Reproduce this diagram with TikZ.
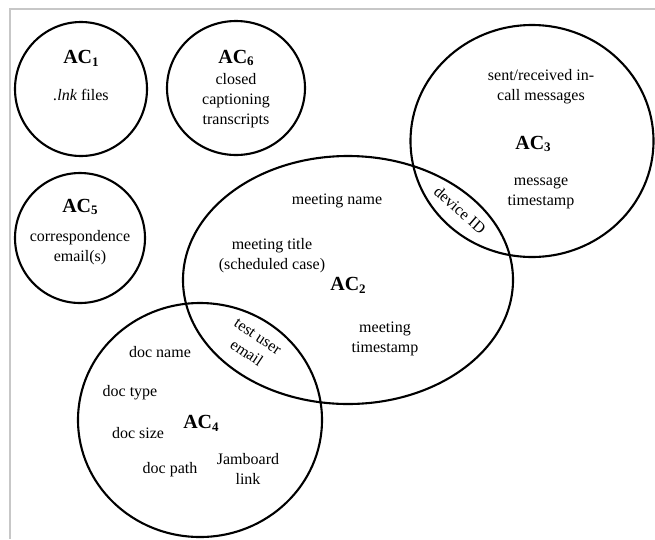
\documentclass[tikz,border=0pt]{standalone}
\usepackage{fontspec}
\setmainfont{Liberation Serif}
\usetikzlibrary{shapes.geometric}
\newcommand{\acsub}[1]{\raisebox{-0.3ex}{\fontsize{13}{13}\selectfont #1}}
\begin{document}
\begin{tikzpicture}[x=1pt,y=-1pt,
  set/.style={draw, ellipse, line width=2.1pt, inner sep=0pt},
  txt/.style={font=\fontsize{16}{20}\selectfont, align=center, inner sep=0pt},
  lab/.style={font=\fontsize{20}{22}\selectfont\bfseries, inner sep=0pt},
  frame/.style={draw=black!22, line width=1.3pt}]
\useasboundingbox (0,0) rectangle (655,539);
\coordinate (ftl) at (10,9);
\coordinate (ftr) at (655,9);
\coordinate (fbl) at (10,539);
\draw[frame] (ftr) -- (ftl) -- (fbl);
% sets
\node[set, minimum width=132pt, minimum height=134pt] (c1) at (81,89) {};
\node[set, minimum width=138pt, minimum height=134pt] (c6) at (236,88) {};
\node[set, minimum width=130pt, minimum height=130pt] (c5) at (80,238) {};
\node[set, minimum width=243pt, minimum height=232pt] (c3) at (532,141) {};
\node[set, minimum width=330pt, minimum height=248pt] (c2) at (348,280) {};
\node[set, minimum width=244pt, minimum height=234pt] (c4) at (200,420) {};
% AC1
\node[lab] (l1) at (81,58) {AC\acsub{1}};
\node[txt] (t1) at (81,95) {\textit{.lnk} files};
% AC6
\node[lab] (l6) at (236,58) {AC\acsub{6}};
\node[txt] (t6) at (236,101) {closed\\captioning\\transcripts};
% AC5
\node[lab] (l5) at (80,207) {AC\acsub{5}};
\node[txt] (t5) at (80,248) {correspondence\\email(s)};
% AC3
\node[txt] (t3a) at (541,87) {sent/received in-\\call messages};
\node[lab] (l3) at (533,144) {AC\acsub{3}};
\node[txt] (t3b) at (541,193) {message\\timestamp};
\node[txt, rotate=-41] (dev) at (460,210) {device ID};
% AC2
\node[txt] (t2a) at (337,201) {meeting name};
\node[txt] (t2b) at (272,256) {meeting title\\(scheduled case)};
\node[lab] (l2) at (348,285) {AC\acsub{2}};
\node[txt] (t2c) at (385,339) {meeting\\timestamp};
\node[txt, rotate=-34] (tue) at (252,345) {test user\\email};
% AC4
\node[txt] (t4a) at (160,352) {doc name};
\node[txt] (t4b) at (130,393) {doc type};
\node[lab] (l4) at (201,423) {AC\acsub{4}};
\node[txt] (t4c) at (138,433) {doc size};
\node[txt] (t4d) at (170,470) {doc path};
\node[txt] (t4e) at (248,469) {Jamboard\\link};
\end{tikzpicture}
\end{document}
